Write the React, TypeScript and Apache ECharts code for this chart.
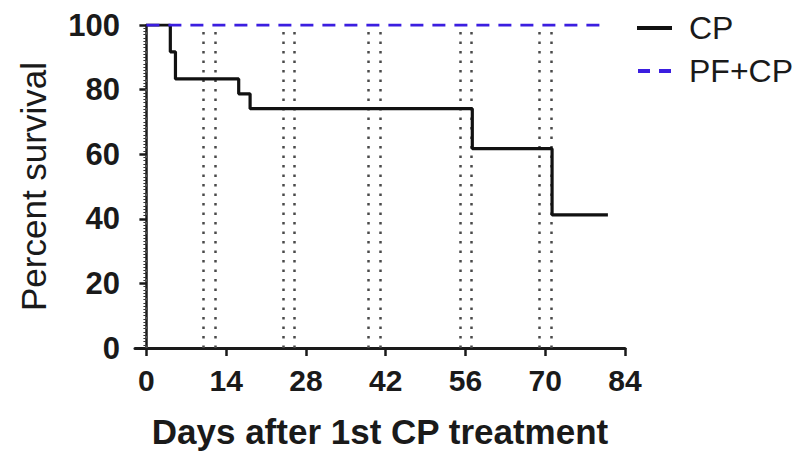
import React, { useEffect, useRef } from "react";
import * as echarts from "echarts";

const cpDays = [0, 4.2, 5.1, 16.2, 18.2, 57.2, 71.2, 81];
const cpSurvival = [100, 91.7, 83.3, 78.7, 74.1, 61.7, 41.2, 41.2];
const pfDays = [0, 81];
const pfSurvival = [100, 100];
const treatmentDays = [0, 10, 12, 24, 26, 39, 41, 55, 57, 69, 71];
const xTicks = [0, 14, 28, 42, 56, 70, 84];
const seriesNames = ["CP", "PF+CP"];

const FONT = "'Liberation Sans', Arial, Helvetica, sans-serif";
const BLUE = "#3b1ee0";

export default function App() {
  const ref = useRef<HTMLDivElement>(null);
  useEffect(() => {
    if (!ref.current) return;
    const chart = echarts.init(ref.current, null, { renderer: "svg" });
    chart.setOption({
      animation: false,
      backgroundColor: "#ffffff",
      textStyle: { fontFamily: FONT },
      grid: { left: 135, right: 185, top: 25, bottom: 106, containLabel: false, outerBoundsMode: "none" },
      legend: {
        orient: "vertical",
        left: 632,
        top: 7,
        itemWidth: 35,
        itemHeight: 4,
        itemGap: 11,
        data: [
          { name: seriesNames[0], icon: "path://M0,0H35V4H0Z" },
          { name: seriesNames[1], icon: "path://M0,0H12V4H0Z M21,0H33V4H21Z" },
        ],
        textStyle: { fontSize: 32, color: "#1a1a1a", fontFamily: FONT, padding: [0, 0, 0, 12] },
      },
      xAxis: {
        type: "value",
        min: -2,
        max: 84,
        name: "Days after 1st CP treatment",
        nameLocation: "middle",
        nameGap: 66,
        nameTextStyle: { fontSize: 35, fontWeight: "bold", color: "#1a1a1a", fontFamily: FONT },
        axisLine: { show: true, lineStyle: { color: "#1a1a1a", width: 3 } },
        axisTick: { show: true, customValues: xTicks, length: 8, lineStyle: { color: "#1a1a1a", width: 2.5 } },
        axisLabel: {
          customValues: xTicks,
          fontSize: 30,
          fontWeight: "bold",
          color: "#1a1a1a",
          margin: 17,
          fontFamily: FONT,
        },
        splitLine: { show: false },
      },
      yAxis: {
        type: "value",
        min: 0,
        max: 100,
        interval: 20,
        name: "Percent survival",
        nameLocation: "middle",
        nameGap: 84,
        nameTextStyle: { fontSize: 35, color: "#1a1a1a", fontFamily: FONT },
        axisLine: { show: true, lineStyle: { color: "#1a1a1a", width: 2.5 } },
        axisTick: { show: true, length: 7, lineStyle: { color: "#1a1a1a", width: 2.5 } },
        minorTick: { show: true, splitNumber: 20, length: 3, lineStyle: { color: "#333", width: 1 } },
        axisLabel: { fontSize: 31, fontWeight: "bold", color: "#1a1a1a", margin: 15, fontFamily: FONT },
        splitLine: { show: false },
      },
      series: [
        {
          name: seriesNames[0],
          type: "line",
          step: "end",
          data: cpDays.map((d, i) => [d, cpSurvival[i]]),
          symbol: "none",
          showSymbol: false,
          color: "#111111",
          lineStyle: { color: "#111111", width: 3.2 },
          z: 3,
          markLine: {
            silent: true,
            symbol: ["none", "none"],
            label: { show: false },
            lineStyle: { color: "#4a4a4a", width: 2.5, type: [2.5, 7] },
            data: treatmentDays.map((d) => ({ xAxis: d })),
            z: 1,
          },
        },
        {
          name: seriesNames[1],
          type: "line",
          data: pfDays.map((d, i) => [d, pfSurvival[i]]),
          symbol: "none",
          showSymbol: false,
          color: BLUE,
          lineStyle: { color: BLUE, width: 3.2, type: [13, 9] },
          z: 4,
        },
      ],
    });
    return () => chart.dispose();
  }, []);
  return <div ref={ref} style={{ width: 810, height: 454, position: "absolute", left: 0, top: 0 }} />;
}
